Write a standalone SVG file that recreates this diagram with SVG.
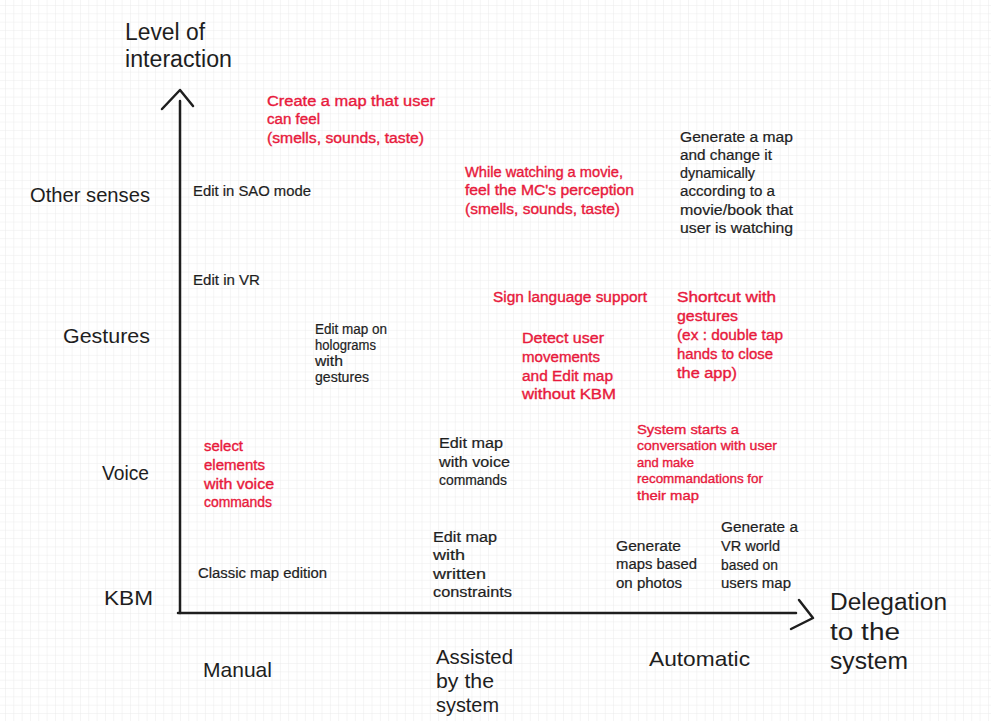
<svg xmlns="http://www.w3.org/2000/svg" width="991" height="721" viewBox="0 0 991 721">
<defs>
<pattern id="grid" x="5" y="5" width="8.33" height="8.33" patternUnits="userSpaceOnUse">
<path d="M0 0H8.33M0 0V8.33" fill="none" stroke="#ebebeb" stroke-width="1"/>
</pattern>
<style>
text{font-family:"Liberation Sans",Arial,sans-serif;}
.k{font-size:14px;fill:#1e1e1e;stroke:#1e1e1e;stroke-width:0.2;}
.r{font-size:14px;fill:#e8193c;stroke:#e8193c;stroke-width:0.35;}
.rs{font-size:13px;fill:#e8193c;stroke:#e8193c;stroke-width:0.35;}
.lg{font-size:21px;fill:#1e1e1e;}
.xl{font-size:23px;fill:#1e1e1e;}
.ax{fill:none;stroke:#1e1e1e;stroke-width:2.5;stroke-linecap:round;stroke-linejoin:round;}
</style>
</defs>
<rect width="991" height="721" fill="#ffffff"/>
<rect width="991" height="721" fill="url(#grid)"/>

<g id="connectors">
<path class="ax" d="M180 101V613"/>
<path class="ax" d="M162 109L180 90L193 106"/>
<path class="ax" d="M178 613H796"/>
<path class="ax" d="M799 600L813 618L791 629"/>
</g>

<g id="axis-y-title">
<text class="xl" x="125" y="40" textLength="80" lengthAdjust="spacingAndGlyphs">Level of</text>
<text class="xl" x="125" y="67" textLength="107" lengthAdjust="spacingAndGlyphs">interaction</text>
</g>
<g id="axis-x-title">
<text class="xl" x="830" y="610" textLength="117" lengthAdjust="spacingAndGlyphs">Delegation</text>
<text class="xl" x="830" y="640" textLength="70" lengthAdjust="spacingAndGlyphs">to the</text>
<text class="xl" x="830" y="669" textLength="78" lengthAdjust="spacingAndGlyphs">system</text>
</g>

<g id="y-other-senses"><text class="lg" x="30" y="202" textLength="120" lengthAdjust="spacingAndGlyphs">Other senses</text></g>
<g id="y-gestures"><text class="lg" x="63" y="343" textLength="87" lengthAdjust="spacingAndGlyphs">Gestures</text></g>
<g id="y-voice"><text class="lg" x="102" y="480" textLength="47" lengthAdjust="spacingAndGlyphs">Voice</text></g>
<g id="y-kbm"><text class="lg" x="104" y="605" textLength="49" lengthAdjust="spacingAndGlyphs">KBM</text></g>

<g id="x-manual"><text class="lg" x="203" y="677" textLength="69" lengthAdjust="spacingAndGlyphs">Manual</text></g>
<g id="x-assisted">
<text class="lg" x="436" y="664" textLength="77" lengthAdjust="spacingAndGlyphs">Assisted</text>
<text class="lg" x="436" y="688" textLength="58" lengthAdjust="spacingAndGlyphs">by the</text>
<text class="lg" x="436" y="712" textLength="63" lengthAdjust="spacingAndGlyphs">system</text>
</g>
<g id="x-automatic"><text class="lg" x="649" y="666" textLength="101" lengthAdjust="spacingAndGlyphs">Automatic</text></g>

<g id="n-create-map-feel">
<text class="r" x="267" y="106" textLength="168" lengthAdjust="spacingAndGlyphs">Create a map that user</text>
<text class="r" x="267" y="124" textLength="53" lengthAdjust="spacingAndGlyphs">can feel</text>
<text class="r" x="267" y="143" textLength="157" lengthAdjust="spacingAndGlyphs">(smells, sounds, taste)</text>
</g>
<g id="n-sao">
<text class="k" x="193" y="196" textLength="118" lengthAdjust="spacingAndGlyphs">Edit in SAO mode</text>
</g>
<g id="n-movie-perception">
<text class="r" x="465" y="177" textLength="158" lengthAdjust="spacingAndGlyphs">While watching a movie,</text>
<text class="r" x="465" y="195" textLength="169" lengthAdjust="spacingAndGlyphs">feel the MC's perception</text>
<text class="r" x="465" y="214" textLength="155" lengthAdjust="spacingAndGlyphs">(smells, sounds, taste)</text>
</g>
<g id="n-generate-dynamic">
<text class="k" x="680" y="142" textLength="113" lengthAdjust="spacingAndGlyphs">Generate a map</text>
<text class="k" x="680" y="160" textLength="92" lengthAdjust="spacingAndGlyphs">and change it</text>
<text class="k" x="680" y="178" textLength="75" lengthAdjust="spacingAndGlyphs">dynamically</text>
<text class="k" x="680" y="196" textLength="95" lengthAdjust="spacingAndGlyphs">according to a</text>
<text class="k" x="680" y="215" textLength="113" lengthAdjust="spacingAndGlyphs">movie/book that</text>
<text class="k" x="680" y="233" textLength="113" lengthAdjust="spacingAndGlyphs">user is watching</text>
</g>
<g id="n-vr">
<text class="k" x="193" y="285" textLength="67" lengthAdjust="spacingAndGlyphs">Edit in VR</text>
</g>
<g id="n-holograms">
<text class="k" x="315" y="334" textLength="72" lengthAdjust="spacingAndGlyphs">Edit map on</text>
<text class="k" x="315" y="350" textLength="61" lengthAdjust="spacingAndGlyphs">holograms</text>
<text class="k" x="315" y="366" textLength="28" lengthAdjust="spacingAndGlyphs">with</text>
<text class="k" x="315" y="382" textLength="54" lengthAdjust="spacingAndGlyphs">gestures</text>
</g>
<g id="n-sign-language">
<text class="r" x="493" y="302" textLength="154" lengthAdjust="spacingAndGlyphs">Sign language support</text>
</g>
<g id="n-detect-movements">
<text class="r" x="522" y="343" textLength="82" lengthAdjust="spacingAndGlyphs">Detect user</text>
<text class="r" x="522" y="362" textLength="78" lengthAdjust="spacingAndGlyphs">movements</text>
<text class="r" x="522" y="381" textLength="91" lengthAdjust="spacingAndGlyphs">and Edit map</text>
<text class="r" x="522" y="399" textLength="94" lengthAdjust="spacingAndGlyphs">without KBM</text>
</g>
<g id="n-shortcut-gestures">
<text class="r" x="677" y="302" textLength="99" lengthAdjust="spacingAndGlyphs">Shortcut with</text>
<text class="r" x="677" y="321" textLength="61" lengthAdjust="spacingAndGlyphs">gestures</text>
<text class="r" x="677" y="340" textLength="106" lengthAdjust="spacingAndGlyphs">(ex : double tap</text>
<text class="r" x="677" y="359" textLength="96" lengthAdjust="spacingAndGlyphs">hands to close</text>
<text class="r" x="677" y="378" textLength="60" lengthAdjust="spacingAndGlyphs">the app)</text>
</g>
<g id="n-select-voice">
<text class="r" x="204" y="451" textLength="39" lengthAdjust="spacingAndGlyphs">select</text>
<text class="r" x="204" y="470" textLength="61" lengthAdjust="spacingAndGlyphs">elements</text>
<text class="r" x="204" y="489" textLength="70" lengthAdjust="spacingAndGlyphs">with voice</text>
<text class="r" x="204" y="507" textLength="68" lengthAdjust="spacingAndGlyphs">commands</text>
</g>
<g id="n-edit-voice">
<text class="k" x="439" y="448" textLength="64" lengthAdjust="spacingAndGlyphs">Edit map</text>
<text class="k" x="439" y="467" textLength="71" lengthAdjust="spacingAndGlyphs">with voice</text>
<text class="k" x="439" y="485" textLength="68" lengthAdjust="spacingAndGlyphs">commands</text>
</g>
<g id="n-conversation">
<text class="rs" x="637" y="434" textLength="102" lengthAdjust="spacingAndGlyphs">System starts a</text>
<text class="rs" x="637" y="450" textLength="140" lengthAdjust="spacingAndGlyphs">conversation with user</text>
<text class="rs" x="637" y="467" textLength="57" lengthAdjust="spacingAndGlyphs">and make</text>
<text class="rs" x="637" y="483" textLength="126" lengthAdjust="spacingAndGlyphs">recommandations for</text>
<text class="rs" x="637" y="500" textLength="62" lengthAdjust="spacingAndGlyphs">their map</text>
</g>
<g id="n-classic">
<text class="k" x="198" y="578" textLength="129" lengthAdjust="spacingAndGlyphs">Classic map edition</text>
</g>
<g id="n-written-constraints">
<text class="k" x="433" y="542" textLength="64" lengthAdjust="spacingAndGlyphs">Edit map</text>
<text class="k" x="433" y="560" textLength="32" lengthAdjust="spacingAndGlyphs">with</text>
<text class="k" x="433" y="579" textLength="53" lengthAdjust="spacingAndGlyphs">written</text>
<text class="k" x="433" y="597" textLength="79" lengthAdjust="spacingAndGlyphs">constraints</text>
</g>
<g id="n-photos">
<text class="k" x="616" y="551" textLength="65" lengthAdjust="spacingAndGlyphs">Generate</text>
<text class="k" x="616" y="569" textLength="81" lengthAdjust="spacingAndGlyphs">maps based</text>
<text class="k" x="616" y="588" textLength="66" lengthAdjust="spacingAndGlyphs">on photos</text>
</g>
<g id="n-vr-world">
<text class="k" x="721" y="532" textLength="77" lengthAdjust="spacingAndGlyphs">Generate a</text>
<text class="k" x="721" y="551" textLength="59" lengthAdjust="spacingAndGlyphs">VR world</text>
<text class="k" x="721" y="570" textLength="57" lengthAdjust="spacingAndGlyphs">based on</text>
<text class="k" x="721" y="588" textLength="70" lengthAdjust="spacingAndGlyphs">users map</text>
</g>
</svg>
